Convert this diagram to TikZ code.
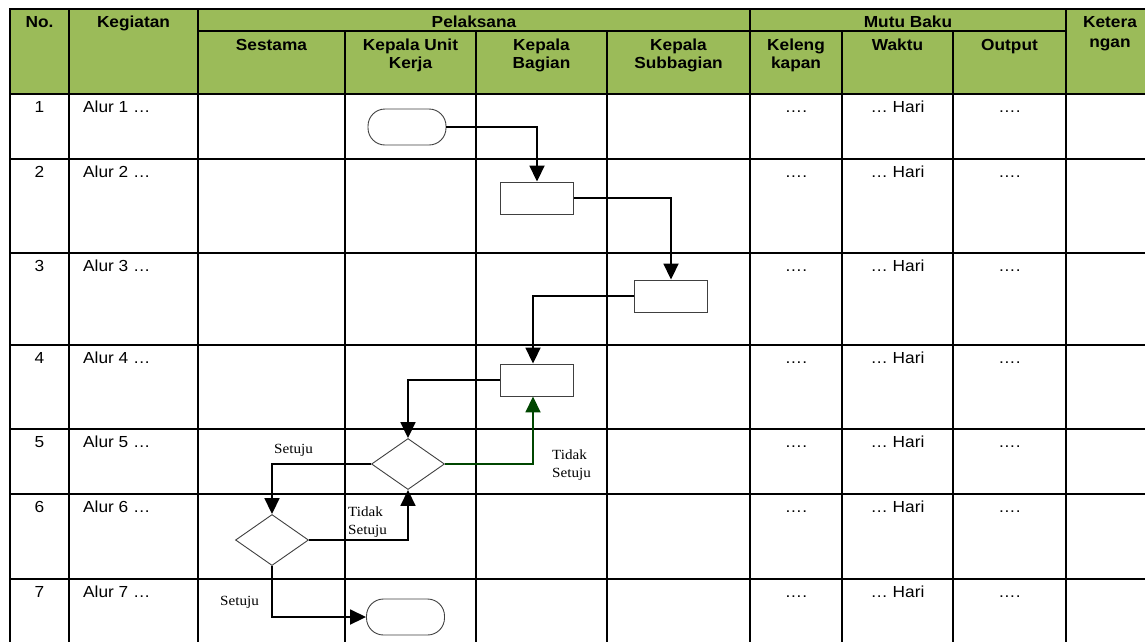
\documentclass[tikz,border=0pt]{standalone}
\usepackage{fontspec}
\setmainfont{Liberation Sans}[FakeStretch=1.08]
\newfontfamily\lblfont{Liberation Serif}[FakeStretch=1.08]
\usetikzlibrary{shapes.geometric,arrows.meta}
\definecolor{hdrgreen}{HTML}{9BBB59}
\definecolor{shpline}{RGB}{64,64,64}
\definecolor{noarrow}{RGB}{0,70,0}
\tikzset{
  tline/.style={line width=2.9pt, line cap=rect},
  hdr/.style={font=\fontsize{16}{18}\selectfont\bfseries, align=center, anchor=base, inner sep=0pt},
  cell/.style={font=\fontsize{16}{18}\selectfont, anchor=base, inner sep=0pt},
  lbl/.style={font=\lblfont\fontsize{14}{17.5}\selectfont, align=left, anchor=base west, inner sep=0pt},
  shp/.style={draw=shpline, line width=0.9pt, fill=white, inner sep=0pt},
  procbox/.style={shp, rectangle, minimum width=73pt, minimum height=32pt},
  termbox/.style={shp, rectangle, rounded corners=17pt, minimum width=78pt, minimum height=36pt},
  decision/.style={shp, diamond, minimum width=73pt, minimum height=51pt},
  arr/.style={line width=1.8pt, -{Triangle[width=15pt,length=16pt]}},
}
\begin{document}
\begin{tikzpicture}[x=1pt,y=-1pt]
\useasboundingbox (0,0) rectangle (1145,641);
\clip (0,0) rectangle (1145,641);
% header fill
\fill[hdrgreen] (10,9) rectangle (1165,94);
% table lines
\foreach \yy in {9,94,159,253,345,429,494,579}
  \draw[tline] (10,\yy) -- (1165,\yy);
\draw[tline] (198,31) -- (1066,31);
\foreach \xx in {10,69,198,750,1066}
  \draw[tline] (\xx,9) -- (\xx,665);
\foreach \xx in {345,476,607,842,953}
  \draw[tline] (\xx,31) -- (\xx,665);
% header texts (base = baseline of last line)
\node[hdr] (hno) at (39.5,27) {No.};
\node[hdr] (hkeg) at (133.5,27) {Kegiatan};
\node[hdr] (hpel) at (474,27) {Pelaksana};
\node[hdr] (hmutu) at (908,27) {Mutu Baku};
\node[hdr, font=\fontsize{16}{20}\selectfont\bfseries] (hket) at (1110,47) {Ketera\\ngan};
\node[hdr] (hses) at (271.5,50) {Sestama};
\node[hdr] (hkuk) at (410.5,68) {Kepala Unit\\Kerja};
\node[hdr] (hkb) at (541.5,68) {Kepala\\Bagian};
\node[hdr] (hks) at (678.5,68) {Kepala\\Subbagian};
\node[hdr] (hkel) at (796,68) {Keleng\\kapan};
\node[hdr] (hwak) at (897.5,50) {Waktu};
\node[hdr] (hout) at (1009.5,50) {Output};
% rows
\foreach \n/\yy in {1/94,2/159,3/253,4/345,5/429,6/494,7/579} {
  \node[cell] (no\n) at (39.5,\yy+18) {\n};
  \node[cell, anchor=base west] (alur\n) at (83,\yy+18) {Alur \n{} …};
  \node[cell] (kel\n) at (796,\yy+18) {….};
  \node[cell] (wak\n) at (897.5,\yy+18) {… Hari};
  \node[cell] (out\n) at (1009.5,\yy+18) {….};
}
% flow shapes
\node[termbox] (s) at (407,127) {};
\node[procbox] (b2) at (537,198) {};
\node[procbox] (b3) at (671,296) {};
\node[procbox] (b4) at (537,380) {};
\node[decision] (d1) at (408,464) {};
\node[decision] (d2) at (272,540) {};
\node[termbox] (e) at (405.5,617) {};
% connectors
\draw[arr] (s.east) -| (b2.north);
\draw[arr] (b2.east) -| (b3.north);
\draw[arr] (b3.west) -| ([xshift=-4pt]b4.north);
\draw[arr] (b4.west) -| (d1.north);
\draw[arr, color=noarrow] (d1.east) -| ([xshift=-4pt]b4.south);
\draw[arr] (d1.west) -| (d2.north);
\draw[arr] (d2.east) -| (d1.south);
\draw[arr] (d2.south) |- (e.west);
% labels (base = baseline of last line)
\node[lbl] (l1) at (274,453) {Setuju};
\node[lbl] (l2) at (552,477) {Tidak\\Setuju};
\node[lbl] (l3) at (348,534) {Tidak\\Setuju};
\node[lbl] (l4) at (220,605) {Setuju};
\end{tikzpicture}
\end{document}
